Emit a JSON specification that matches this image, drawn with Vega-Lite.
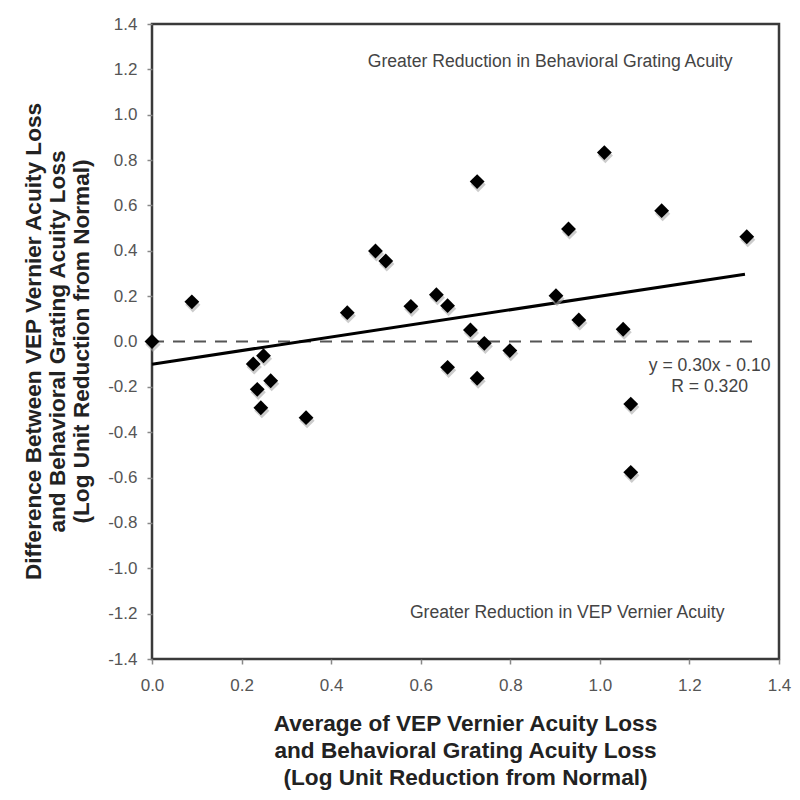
{
  "$schema": "https://vega.github.io/schema/vega-lite/v6.json",
  "autosize": {"type": "none"},
  "width": 627,
  "height": 635,
  "padding": {"left": 152, "top": 24, "right": 21, "bottom": 141},
  "background": "white",
  "config": {
    "font": "Liberation Sans",
    "view": {"stroke": "#3a3a3a", "strokeWidth": 2.5},
    "axis": {
      "domain": false,
      "grid": false,
      "ticks": true,
      "tickSize": 5,
      "tickColor": "#888",
      "tickWidth": 1.5,
      "labelFont": "Liberation Sans",
      "labelFontSize": 17,
      "labelColor": "#555",
      "labelFlush": false,
      "labelOverlap": false,
      "titleFont": "Liberation Sans",
      "titleFontSize": 22.6,
      "titleFontWeight": "bold",
      "titleColor": "#222"
    }
  },
  "datasets": {
    "points": [
      {"avg": 0.0, "diff": 0.0},
      {"avg": 0.089, "diff": 0.175},
      {"avg": 0.226, "diff": -0.099},
      {"avg": 0.249, "diff": -0.063},
      {"avg": 0.265, "diff": -0.173},
      {"avg": 0.235, "diff": -0.211},
      {"avg": 0.243, "diff": -0.292},
      {"avg": 0.344, "diff": -0.336},
      {"avg": 0.436, "diff": 0.127},
      {"avg": 0.499, "diff": 0.399},
      {"avg": 0.522, "diff": 0.355},
      {"avg": 0.578, "diff": 0.155},
      {"avg": 0.635, "diff": 0.206},
      {"avg": 0.66, "diff": 0.158},
      {"avg": 0.66, "diff": -0.114},
      {"avg": 0.711, "diff": 0.051},
      {"avg": 0.742, "diff": -0.008},
      {"avg": 0.799, "diff": -0.04},
      {"avg": 0.726, "diff": -0.162},
      {"avg": 0.726, "diff": 0.705},
      {"avg": 0.902, "diff": 0.202},
      {"avg": 0.93, "diff": 0.496},
      {"avg": 0.953, "diff": 0.095},
      {"avg": 1.01, "diff": 0.833},
      {"avg": 1.052, "diff": 0.054},
      {"avg": 1.069, "diff": -0.276},
      {"avg": 1.069, "diff": -0.577},
      {"avg": 1.138, "diff": 0.577},
      {"avg": 1.328, "diff": 0.462}
    ],
    "fit": [
      {"avg": 0.0, "diff": -0.1},
      {"avg": 1.324, "diff": 0.297}
    ],
    "zero": [
      {"avg": 0.0, "diff": 0.0},
      {"avg": 1.35, "diff": 0.0}
    ],
    "notes": [
      {"avg": 0.889, "diff": 1.234, "label": "Greater Reduction in Behavioral Grating Acuity"},
      {"avg": 0.927, "diff": -1.197, "label": "Greater Reduction in VEP Vernier Acuity"},
      {"avg": 1.245, "diff": -0.108, "label": "y = 0.30x - 0.10"},
      {"avg": 1.245, "diff": -0.202, "label": "R = 0.320"}
    ]
  },
  "encoding": {
    "x": {
      "field": "avg",
      "type": "quantitative",
      "scale": {"domain": [0, 1.4], "nice": false, "zero": false},
      "axis": {
        "values": [0, 0.2, 0.4, 0.6, 0.8, 1.0, 1.2, 1.4],
        "format": ".1f",
        "labelPadding": 13,
        "title": ["Average of VEP Vernier Acuity Loss", "and Behavioral Grating Acuity Loss", "(Log Unit Reduction from Normal)"],
        "titleLineHeight": 27,
        "titleBaseline": "top",
        "titleY": 53,
        "titleX": 313
      }
    },
    "y": {
      "field": "diff",
      "type": "quantitative",
      "scale": {"domain": [-1.4, 1.4], "nice": false, "zero": false},
      "axis": {
        "values": [-1.4, -1.2, -1.0, -0.8, -0.6, -0.4, -0.2, 0, 0.2, 0.4, 0.6, 0.8, 1.0, 1.2, 1.4],
        "labelExpr": "replace(format(datum.value, '.1f'), '\u2212', '-')",
        "labelPadding": 10,
        "title": ["Difference Between VEP Vernier Acuity Loss", "and Behavioral Grating Acuity Loss", "(Log Unit Reduction from Normal)"],
        "titleLineHeight": 24,
        "titleBaseline": "bottom",
        "titleAngle": -90,
        "titleX": -107,
        "titleY": 317
      }
    }
  },
  "layer": [
    {
      "data": {"name": "zero"},
      "mark": {"type": "line", "color": "#555", "strokeWidth": 2, "strokeDash": [12, 9]}
    },
    {
      "data": {"name": "fit"},
      "mark": {"type": "line", "color": "#000", "strokeWidth": 3}
    },
    {
      "data": {"name": "points"},
      "mark": {"type": "point", "shape": "diamond", "filled": true, "size": 230, "color": "#aaa", "opacity": 0.6, "xOffset": 1, "yOffset": 3}
    },
    {
      "data": {"name": "points"},
      "mark": {"type": "point", "shape": "diamond", "filled": true, "size": 220, "color": "#000", "opacity": 1}
    },
    {
      "data": {"name": "notes"},
      "mark": {"type": "text", "font": "Liberation Sans", "fontSize": 17.6, "color": "#444", "align": "center", "baseline": "middle"},
      "encoding": {"text": {"field": "label"}}
    }
  ]
}
